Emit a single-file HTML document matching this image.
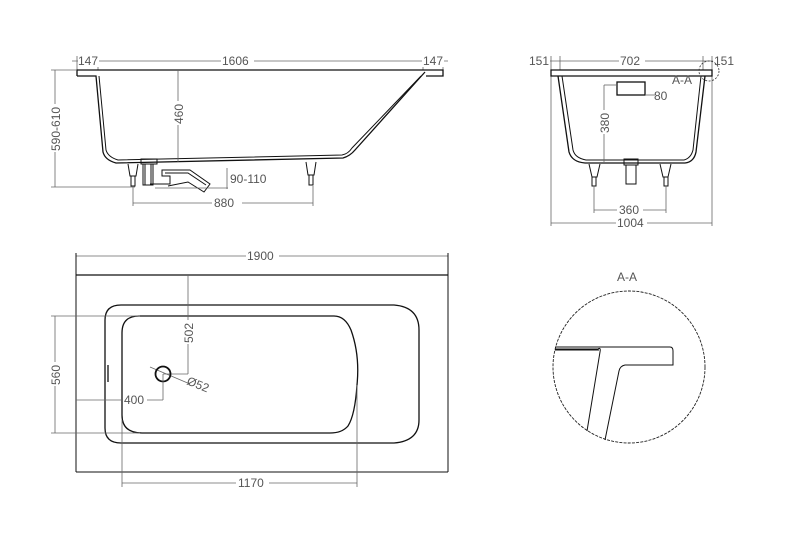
<!DOCTYPE html>
<html><head><meta charset="utf-8"><style>
html,body{margin:0;padding:0;background:#fff}
svg{display:block}
text{font-family:"Liberation Sans",sans-serif;font-size:12px;fill:#555}
.d{stroke:#666;stroke-width:0.8;fill:none}
.k{stroke:#111;stroke-width:1.3;fill:none}
.m{stroke:#111;stroke-width:1;fill:none}
</style></head><body>
<svg width="788" height="552" viewBox="0 0 788 552" xmlns="http://www.w3.org/2000/svg">
<!-- SIDE VIEW -->
<g>
<line class="d" x1="72" y1="61" x2="448" y2="61"/>
<line class="d" x1="77" y1="56" x2="77" y2="70"/><line class="d" x1="98" y1="56" x2="98" y2="70"/>
<line class="d" x1="423" y1="56" x2="423" y2="70"/><line class="d" x1="443" y1="56" x2="443" y2="70"/>
<rect x="78" y="54" width="21" height="13" fill="#fff"/><text x="78" y="65">147</text>
<rect x="221" y="54" width="33" height="13" fill="#fff"/><text x="222" y="65">1606</text>
<rect x="422" y="54" width="22" height="13" fill="#fff"/><text x="423" y="65">147</text>
<path class="k" d="M77 76 L77 70 L443 70 L443 76 L426 76"/>
<path class="k" d="M77 76 L96 76 L103 152 Q105 160 116 163 L343 158 Q350 156 355 150 L425 72"/>
<path class="m" d="M99 76 L106 150 Q108 157 118 160 L342 155 Q348 154 352 148 L421 76"/>
<!-- dims -->
<line class="d" x1="55" y1="70" x2="55" y2="187"/>
<line class="d" x1="51" y1="70" x2="77" y2="70"/>
<line class="d" x1="51" y1="187" x2="135" y2="187"/>
<rect x="49" y="104" width="12" height="48" fill="#fff"/>
<text transform="translate(60,151) rotate(-90)">590-610</text>
<line class="d" x1="178" y1="70" x2="178" y2="162"/>
<rect x="172" y="101" width="12" height="24" fill="#fff"/>
<text transform="translate(183,124) rotate(-90)">460</text>
<!-- legs -->
<path class="m" d="M128 164 L130 176 L136 176 L138 164"/><rect class="m" x="131" y="176" width="4" height="10"/>
<path class="m" d="M306 162 L308 175 L314 175 L316 162"/><rect class="m" x="309" y="175" width="4" height="10"/>
<!-- drain -->
<rect class="m" x="141" y="159" width="16" height="5"/>
<rect class="m" x="143" y="164" width="10" height="21"/>
<rect class="m" x="145" y="164" width="6" height="21"/>
<path class="m" d="M150 184 L170 184 L170 176 L162 176 L162 170 L190 170 L210 184 L204 192 L188 182 L168 186"/>
<path class="m" d="M165 173 L188 173 L206 185"/>
<line class="d" x1="155" y1="188" x2="228" y2="188"/>
<line class="d" x1="227" y1="168" x2="227" y2="189"/>
<text x="230" y="183">90-110</text>
<line class="d" x1="133" y1="186" x2="133" y2="206"/><line class="d" x1="313" y1="186" x2="313" y2="206"/>
<line class="d" x1="133" y1="203" x2="313" y2="203"/>
<rect x="212" y="197" width="30" height="13" fill="#fff"/><text x="214" y="207">880</text>
</g>
<!-- END VIEW -->
<g>
<line class="d" x1="530" y1="61" x2="720" y2="61"/>
<line class="d" x1="551" y1="56" x2="551" y2="226"/><line class="d" x1="712" y1="56" x2="712" y2="226"/>
<line class="d" x1="560" y1="56" x2="560" y2="70"/><line class="d" x1="703" y1="56" x2="703" y2="70"/>
<rect x="529" y="54" width="21" height="13" fill="#fff"/><text x="529" y="65">151</text>
<rect x="619" y="54" width="26" height="13" fill="#fff"/><text x="620" y="65">702</text>
<rect x="713" y="54" width="22" height="13" fill="#fff"/><text x="714" y="65">151</text>
<path class="k" d="M551 70 L712 70 L712 76 L551 76 Z"/>
<path class="k" d="M558 76 L569 152 Q572 162 585 163 L685 163 Q694 162 696 152 L705 76"/>
<path class="m" d="M562 76 L573 150 Q575 158 586 160 L684 160 Q691 158 693 150 L701 76"/>
<circle cx="709" cy="71" r="10" fill="none" stroke="#333" stroke-width="0.8" stroke-dasharray="2,1.5"/>
<text x="672" y="84">A-A</text>
<rect class="k" x="617" y="82" width="28" height="13"/>
<line class="d" x1="604" y1="85" x2="617" y2="85"/><line class="d" x1="645" y1="95" x2="655" y2="95"/>
<text x="654" y="100">80</text>
<line class="d" x1="604" y1="85" x2="604" y2="162"/>
<rect x="598" y="110" width="12" height="24" fill="#fff"/>
<text transform="translate(609,133) rotate(-90)">380</text>
<path class="m" d="M589 164 L592 177 L597 177 L600 164"/><rect class="m" x="592" y="177" width="4" height="9"/>
<path class="m" d="M660 164 L663 177 L668 177 L671 164"/><rect class="m" x="664" y="177" width="4" height="9"/>
<rect class="m" x="624" y="159" width="14" height="6"/><rect class="m" x="626" y="165" width="10" height="19"/>
<line class="d" x1="594" y1="186" x2="594" y2="213"/><line class="d" x1="666" y1="186" x2="666" y2="213"/>
<line class="d" x1="594" y1="210" x2="666" y2="210"/>
<rect x="617" y="204" width="26" height="13" fill="#fff"/><text x="619" y="214">360</text>
<line class="d" x1="551" y1="223" x2="712" y2="223"/>
<rect x="616" y="217" width="31" height="13" fill="#fff"/><text x="617" y="227">1004</text>
</g>
<!-- TOP VIEW -->
<g>
<line class="d" x1="76" y1="256" x2="448" y2="256"/>
<rect x="246" y="250" width="33" height="13" fill="#fff"/><text x="247" y="260">1900</text>
<line class="m" x1="76" y1="253" x2="76" y2="472"/><line class="m" x1="448" y1="253" x2="448" y2="472"/>
<line class="k" x1="76" y1="275" x2="448" y2="275"/>
<line class="m" x1="76" y1="472" x2="448" y2="472"/>
<path class="k" d="M121 305 L394 305 Q419 307 419 330 L419 420 Q419 441 394 443 L121 443 Q105 443 105 428 L105 320 Q105 305 121 305 Z"/>
<path class="k" d="M139 316 L334 316 Q345 316 351 330 Q360 355 357 385 Q355 415 348 426 Q342 433 330 433 L142 433 Q122 433 122 415 L122 333 Q122 316 139 316 Z"/>
<line class="k" x1="108" y1="365" x2="108" y2="382"/>
<line class="d" x1="51" y1="316" x2="140" y2="316"/><line class="d" x1="51" y1="433" x2="140" y2="433"/>
<line class="d" x1="55" y1="316" x2="55" y2="433"/>
<rect x="49" y="362" width="12" height="24" fill="#fff"/>
<text transform="translate(60,385) rotate(-90)">560</text>
<line class="d" x1="188" y1="275" x2="188" y2="374"/><line class="d" x1="163" y1="374" x2="188" y2="374"/>
<rect x="182" y="320" width="12" height="24" fill="#fff"/>
<text transform="translate(193,343) rotate(-90)">502</text>
<line class="d" x1="150" y1="367" x2="190" y2="384"/>
<circle cx="163" cy="374" r="7.5" fill="none" stroke="#111" stroke-width="1.8"/>
<text transform="translate(186,384) rotate(22)">Ø52</text>
<line class="d" x1="163" y1="374" x2="163" y2="400"/>
<line class="d" x1="76" y1="400" x2="163" y2="400"/>
<rect x="123" y="394" width="24" height="13" fill="#fff"/><text x="124" y="404">400</text>
<line class="d" x1="122" y1="420" x2="122" y2="487"/><line class="d" x1="357" y1="385" x2="357" y2="487"/>
<line class="d" x1="122" y1="483" x2="357" y2="483"/>
<rect x="236" y="477" width="33" height="13" fill="#fff"/><text x="238" y="487">1170</text>
</g>
<!-- DETAIL A-A -->
<g>
<text x="617" y="281">A-A</text>
<circle cx="629" cy="367" r="76" fill="none" stroke="#222" stroke-width="0.9" stroke-dasharray="3,1.2"/>
<path class="m" d="M555 347 L670 347 Q673 347 673 351 L673 365 L625 365 Q620 366 619 371 L605 440"/>
<path class="m" d="M555 349 L598 349 Q601 347 600 352 L587 431"/>
<line class="m" x1="555" y1="350" x2="599" y2="350"/>
</g>
</svg>
</body></html>
